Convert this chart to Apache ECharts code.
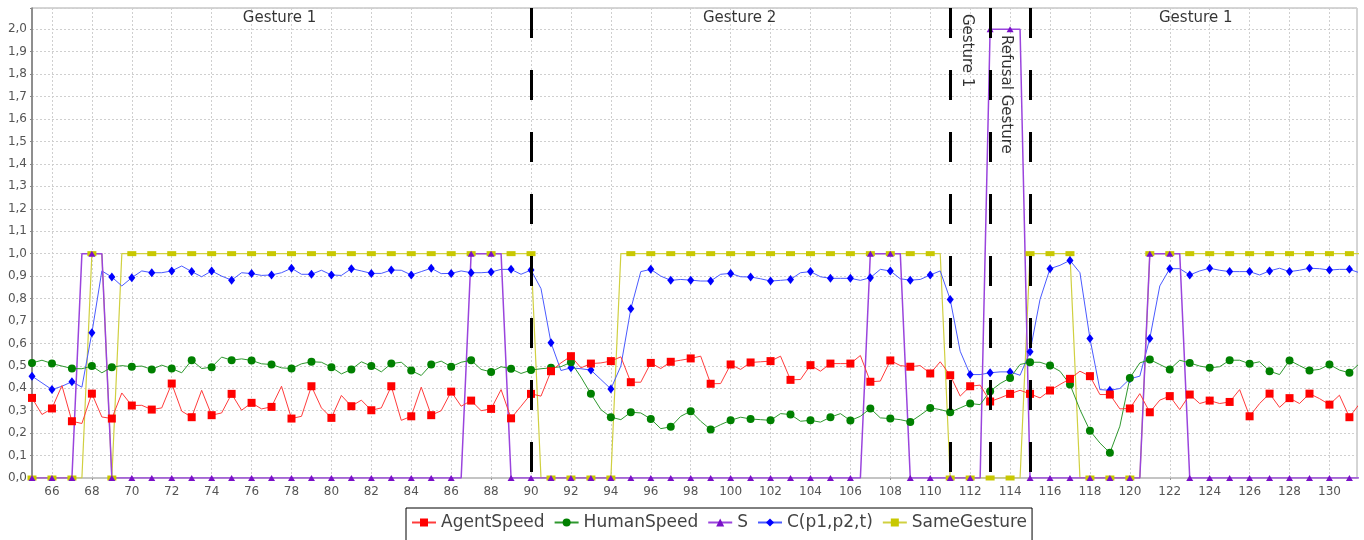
<!DOCTYPE html>
<html>
<head>
    <meta charset="utf-8"/>
    <title>Gestures</title>
    <script src="https://cdn.jsdelivr.net/npm/echarts@6/dist/echarts.min.js"></script>
</head>
<body style="margin:0">
<div id="main" style="width: 1364px; height: 540px"></div>
<script type="text/javascript">
    // time axis: one sample every half step, starting at 65
    var tStart = 65, tStep = 0.5;

    var agentSpeed = [
        .357, .283, .31, .412, .253, .243, .376, .272, .265, .379,
        .323, .324, .305, .3125, .421, .298, .271, .391, .28, .29,
        .375, .302, .335, .308, .317, .409, .265, .275, .409, .3125,
        .268, .368, .32, .347, .302, .3125, .409, .257, .275, .405,
        .28, .30, .385, .32, .345, .30, .308, .394, .266, .32,
        .375, .365, .476, .513, .543, .491, .51, .513, .521, .54,
        .427, .427, .513, .488, .518, .525, .533, .543, .42, .421,
        .506, .484, .515, .518, .521, .543, .4375, .439, .503, .476,
        .51, .51, .51, .546, .429, .432, .524, .501, .496, .501,
        .466, .518, .458, .365, .409, .414, .341, .357, .375, .391,
        .375, .357, .39, .417, .442, .476, .454, .372, .372, .308,
        .31, .376, .293, .347, .365, .305, .372, .332, .345, .332,
        .339, .394, .275, .332, .376, .315, .356, .332, .376, .354,
        .327, .369, .271, .33
    ];
    var humanSpeed = [
        .513, .525, .51, .499, .488, .487, .499, .469, .494, .501,
        .496, .499, .484, .503, .488, .469, .525, .488, .494, .539,
        .525, .531, .524, .509, .506, .491, .488, .509, .518, .516,
        .494, .464, .484, .518, .499, .473, .51, .516, .479, .457,
        .506, .521, .496, .516, .525, .484, .473, .496, .487, .466,
        .481, .487, .491, .496, .516, .45, .375, .305, .271, .26,
        .293, .29, .263, .22, .228, .275, .298, .253, .216, .238,
        .257, .271, .263, .26, .257, .287, .283, .253, .257, .249,
        .271, .287, .256, .275, .31, .268, .265, .26, .25, .28,
        .3125, .305, .293, .3125, .332, .327, .387, .421, .446, .506,
        .516, .516, .501, .476, .417, .305, .211, .156, .112, .231,
        .446, .513, .528, .506, .484, .525, .513, .499, .491, .496,
        .525, .525, .509, .518, .476, .461, .524, .501, .479, .484,
        .506, .481, .469, .51
    ];
    var sValues = [
        0, 0, 0, 0, 0, 1, 1, 1, 0, 0,
        0, 0, 0, 0, 0, 0, 0, 0, 0, 0,
        0, 0, 0, 0, 0, 0, 0, 0, 0, 0,
        0, 0, 0, 0, 0, 0, 0, 0, 0, 0,
        0, 0, 0, 0, 1, 1, 1, 1, 0, 0,
        0, 0, 0, 0, 0, 0, 0, 0, 0, 0,
        0, 0, 0, 0, 0, 0, 0, 0, 0, 0,
        0, 0, 0, 0, 0, 0, 0, 0, 0, 0,
        0, 0, 0, 0, 1, 1, 1, 1, 0, 0,
        0, 0, 0, 0, 0, 0, 2, 2, 2, 2,
        0, 0, 0, 0, 0, 0, 0, 0, 0, 0,
        0, 0, 1, 1, 1, 1, 0, 0, 0, 0,
        0, 0, 0, 0, 0, 0, 0, 0, 0, 0,
        0, 0, 0, 0
    ];
    var cValues = [
        .454, .424, .394, .409, .429, .405, .647, .923, .896, .856,
        .893, .923, .915, .915, .923, .945, .92, .897, .923, .9,
        .882, .915, .911, .903, .905, .915, .935, .908, .908, .926,
        .905, .903, .933, .923, .912, .912, .927, .926, .905, .92,
        .935, .911, .912, .923, .915, .915, .918, .93, .93, .908,
        .927, .844, .603, .479, .491, .487, .481, .439, .397, .499,
        .754, .92, .93, .9, .881, .885, .882, .878, .878, .908,
        .912, .897, .896, .888, .878, .881, .885, .915, .92, .897,
        .89, .89, .89, .881, .893, .93, .923, .888, .882, .885,
        .905, .923, .796, .565, .461, .461, .469, .473, .473, .458,
        .5625, .796, .933, .948, .97, .915, .622, .394, .391, .399,
        .442, .454, .622, .856, .933, .933, .905, .923, .935, .926,
        .92, .92, .92, .905, .923, .935, .92, .926, .935, .933,
        .927, .93, .93, .915
    ];
    var sameGesture = [
        0, 0, 0, 0, 0, 0, 1, 1, 0, 1,
        1, 1, 1, 1, 1, 1, 1, 1, 1, 1,
        1, 1, 1, 1, 1, 1, 1, 1, 1, 1,
        1, 1, 1, 1, 1, 1, 1, 1, 1, 1,
        1, 1, 1, 1, 1, 1, 1, 1, 1, 1,
        1, 0, 0, 0, 0, 0, 0, 0, 0, 1,
        1, 1, 1, 1, 1, 1, 1, 1, 1, 1,
        1, 1, 1, 1, 1, 1, 1, 1, 1, 1,
        1, 1, 1, 1, 1, 1, 1, 1, 1, 1,
        1, 1, 0, 0, 0, 0, 0, 0, 0, 0,
        1, 1, 1, 1, 1, 0, 0, 0, 0, 0,
        0, 0, 1, 1, 1, 1, 1, 1, 1, 1,
        1, 1, 1, 1, 1, 1, 1, 1, 1, 1,
        1, 1, 1, 1
    ];

    var xTicks = [66, 68, 70, 72, 74, 76, 78, 80, 82, 84, 86, 88, 90, 92, 94, 96, 98,
        100, 102, 104, 106, 108, 110, 112, 114, 116, 118, 120, 122, 124, 126, 128, 130];

    // gesture boundaries and labels
    var boundaries = [90, 111, 113, 115];
    var noteText = ['Gesture 1', 'Gesture 2', 'Gesture 1', 'Gesture 1', 'Refusal Gesture'];
    var noteX = [77.4, 100.45, 123.3, 111.84, 113.8];
    var noteY = [2.05, 2.05, 2.05, 1.905, 1.71];
    var noteRotate = [0, 0, 0, -90, -90];

    var yMax = 2.095;
    var FONT = 'DejaVu Sans';

    function points(values) {
        return values.map(function (v, i) {
            return [tStart + i * tStep, v];
        });
    }

    function lineSeries(name, values, color, lineColor, symbol, size, width) {
        return {
            name: name,
            type: 'line',
            data: points(values),
            symbol: symbol,
            symbolSize: function (val) {
                return Number.isInteger(val[0]) ? size : 0;
            },
            showAllSymbol: true,
            itemStyle: {color: color},
            lineStyle: {color: lineColor, width: width || 1},
            emphasis: {disabled: true}
        };
    }

    var myChart = echarts.init(document.getElementById('main'));

    var option = {
        animation: false,
        backgroundColor: '#fff',
        grid: {
            left: 32, right: 7, top: 8, bottom: 62,
            show: true, borderColor: '#aaa', borderWidth: 1
        },
        legend: {
            data: ['AgentSpeed', 'HumanSpeed', 'S', 'C(p1,p2,t)', 'SameGesture'],
            left: 406, top: 508,
            itemWidth: 24, itemHeight: 10, itemGap: 9,
            padding: [6, 5, 12, 5],
            borderColor: '#000', borderWidth: 1,
            selectedMode: false,
            textStyle: {fontFamily: FONT, fontSize: 17, color: '#444'}
        },
        xAxis: {
            type: 'value',
            min: tStart, max: 131.38,
            offset: 2,
            axisLine: {lineStyle: {color: '#c4c4c4', width: 2}},
            axisTick: {customValues: xTicks, length: 2, lineStyle: {color: '#999'}},
            axisLabel: {
                customValues: xTicks, margin: 6,
                fontFamily: FONT, fontSize: 12, color: '#555'
            },
            splitLine: {lineStyle: {color: '#cfcfcf', type: [2, 2]}}
        },
        yAxis: {
            type: 'value',
            min: 0, max: yMax, interval: 0.1,
            axisLine: {show: true, lineStyle: {color: '#777', width: 1.5}},
            axisTick: {show: true, length: 2, lineStyle: {color: '#888'}},
            axisLabel: {
                margin: 5, fontFamily: FONT, fontSize: 12, color: '#555',
                formatter: function (v) {
                    var t = v * 10;
                    if (Math.abs(t - Math.round(t)) > 1e-6 || v > 2.0001) return '';
                    return v.toFixed(1).replace('.', ',');
                }
            },
            splitLine: {lineStyle: {color: '#cfcfcf', type: [2, 2]}}
        },
        series: [
            lineSeries('SameGesture', sameGesture, '#c8c800', '#d0d040', 'rect', [9, 5], 1.2),
            lineSeries('C(p1,p2,t)', cValues, '#0000ff', '#4a5aff', 'diamond', [7, 9], 1),
            lineSeries('S', sValues, '#7a10c8', '#9a44dd', 'triangle', [7, 6], 1.5),
            lineSeries('HumanSpeed', humanSpeed, '#008000', '#2f982f', 'circle', 8, 1),
            lineSeries('AgentSpeed', agentSpeed, '#ff0000', '#ff3c3c', 'rect', 8, 1),
            {
                name: 'notes',
                type: 'scatter',
                z: 10,
                symbolSize: 0,
                silent: true,
                data: noteText.map(function (t, i) {
                    return {
                        value: [noteX[i], noteY[i]],
                        label: {rotate: noteRotate[i]}
                    };
                }),
                label: {
                    show: true,
                    position: 'inside',
                    fontFamily: FONT, fontSize: 15, color: '#000',
                    formatter: function (p) {
                        return noteText[p.dataIndex];
                    }
                },
                markLine: {
                    silent: true,
                    symbol: ['none', 'none'],
                    label: {show: false},
                    lineStyle: {color: '#000', width: 3, type: [30, 32], opacity: 1},
                    data: boundaries.map(function (b) {
                        return [{coord: [b, yMax]}, {coord: [b, 0]}];
                    })
                }
            }
        ]
    };

    myChart.setOption(option);
</script>
</body>
</html>
